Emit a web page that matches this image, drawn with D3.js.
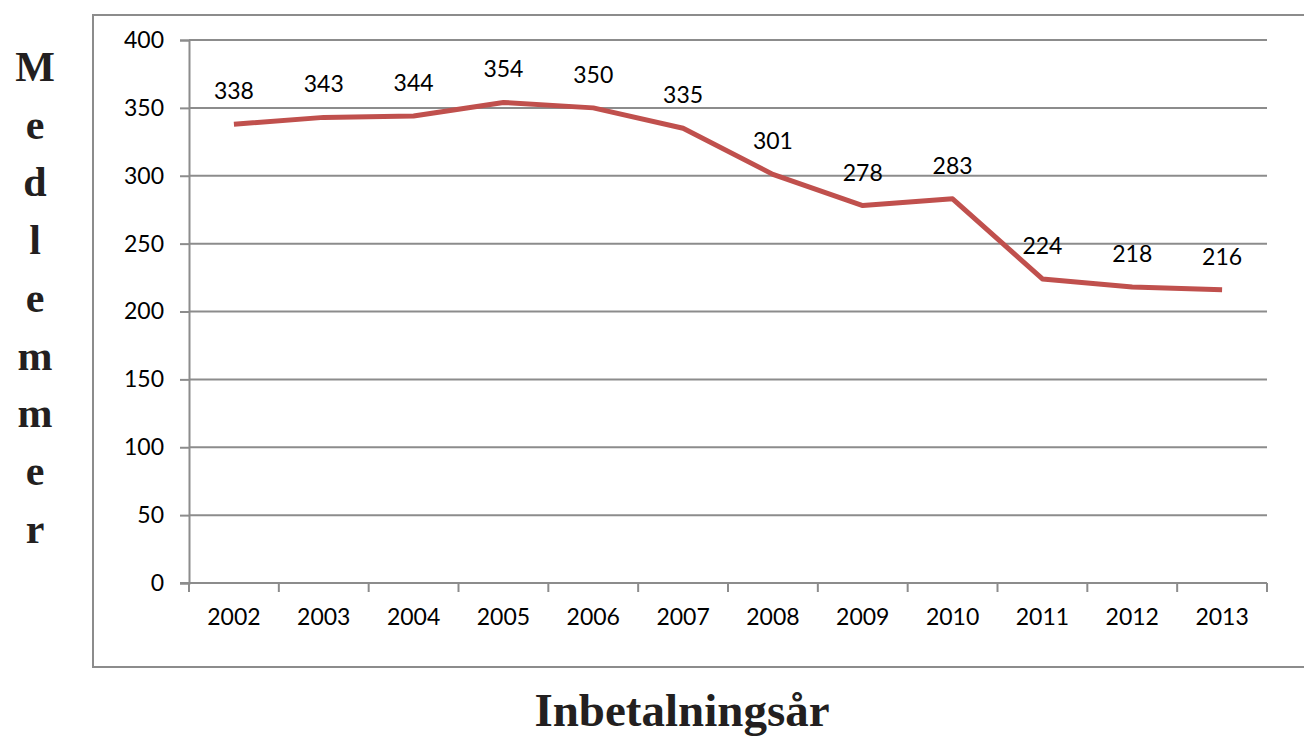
<!DOCTYPE html>
<html><head><meta charset="utf-8">
<script src="https://cdn.jsdelivr.net/npm/d3@7"></script>
<style>body{margin:0;background:#fff}svg{display:block}</style>
</head><body>
<svg id="c" width="1304" height="738"></svg>
<script>
const years = ["2002","2003","2004","2005","2006","2007","2008","2009","2010","2011","2012","2013"];
const members = [338,343,344,354,350,335,301,278,283,224,218,216];
const yTicks = [0,50,100,150,200,250,300,350,400];
const yTitle = "Medlemmer";
const xTitle = "Inbetalningsår";

const svg = d3.select("#c");
const L = 189, R = 1267, T = 40, B = 583;
const x = d3.scaleBand().domain(years).range([L, R]);
const y = d3.scaleLinear().domain([0, 400]).range([B, T]);
const grid = "#8c8c8c";
const numFont = "Lato, 'Open Sans', sans-serif";
const numSize = 23;

// outer border
svg.append("rect").attr("x", 93).attr("y", 15).attr("width", 1240).attr("height", 652)
  .attr("fill", "none").attr("stroke", grid).attr("stroke-width", 2);

// gridlines
svg.append("g").selectAll("line").data(yTicks.filter(d => d > 0)).join("line")
  .attr("x1", L).attr("x2", R).attr("y1", d => y(d)).attr("y2", d => y(d))
  .attr("stroke", grid).attr("stroke-width", 2);

// y axis
const ya = svg.append("g").attr("transform", `translate(${L},0)`)
  .call(d3.axisLeft(y).tickValues(yTicks).tickSize(9).tickPadding(16));
ya.select(".domain").attr("stroke", grid).attr("stroke-width", 2);
ya.selectAll(".tick line").attr("stroke", grid).attr("stroke-width", 2);
ya.selectAll("text").attr("font-family", numFont).attr("font-size", numSize).attr("fill", "#000");

// x axis
const xa = svg.append("g").attr("transform", `translate(0,${B})`)
  .call(d3.axisBottom(x).tickSize(0).tickPadding(26));
xa.select(".domain").remove();
svg.append("line").attr("x1", L - 9).attr("x2", R).attr("y1", B).attr("y2", B)
  .attr("stroke", grid).attr("stroke-width", 2);
const bounds = years.map(d => x(d)).concat([x(years[years.length-1]) + x.bandwidth()]);
svg.append("g").selectAll("line").data(bounds).join("line")
  .attr("x1", d => d).attr("x2", d => d).attr("y1", B).attr("y2", B + 9)
  .attr("stroke", grid).attr("stroke-width", 2);
xa.selectAll("text").attr("font-family", numFont).attr("font-size", numSize).attr("fill", "#000");

// line
const cx = d => x(d) + x.bandwidth() / 2;
svg.append("path").datum(members.map((v, i) => [years[i], v]))
  .attr("fill", "none").attr("stroke", "#C0504D").attr("stroke-width", 5)
  .attr("stroke-linejoin", "round")
  .attr("d", d3.line().x(d => cx(d[0])).y(d => y(d[1])));

// data labels
svg.append("g").selectAll("text").data(members).join("text")
  .attr("x", (d, i) => cx(years[i])).attr("y", d => y(d) - 25)
  .attr("text-anchor", "middle").attr("font-family", numFont).attr("font-size", numSize)
  .attr("fill", "#000").text(d => d);

// y title stacked
svg.append("g").selectAll("text").data(yTitle.split("")).join("text")
  .attr("x", 35).attr("y", (d, i) => 81 + i * 57.7)
  .attr("text-anchor", "middle").attr("font-family", "'Liberation Serif', serif")
  .attr("font-weight", "bold").attr("font-size", 42).attr("fill", "#231f20").text(d => d);

// x title
svg.append("text").attr("x", 682).attr("y", 726).attr("text-anchor", "middle")
  .attr("font-family", "'Liberation Serif', serif").attr("font-weight", "bold")
  .attr("font-size", 47).attr("fill", "#231f20").text(xTitle);
</script>
</body></html>
